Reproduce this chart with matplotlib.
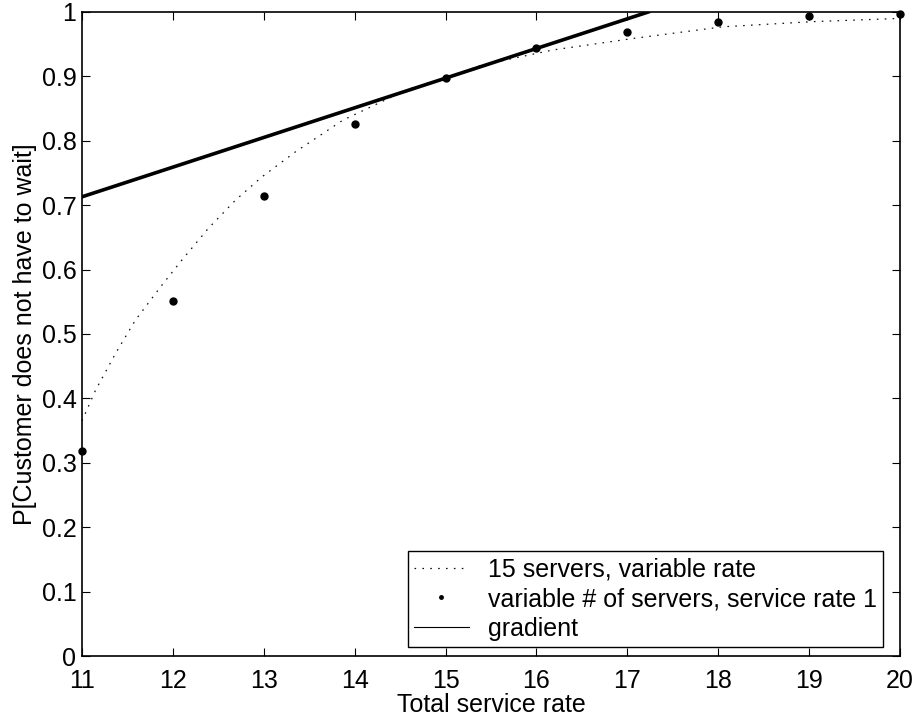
import matplotlib
matplotlib.use("Agg")
import matplotlib.pyplot as plt

plt.rcParams['font.family'] = ['Liberation Sans', 'DejaVu Sans']

# 15 servers, variable rate (curve)
rate_curve = [11.0, 11.15, 11.37, 11.59, 11.88, 12.1, 12.39, 12.69, 12.98,
              13.35, 13.87, 14.57, 15.0, 15.41, 16.18, 17.07, 18.05, 19.04, 20.0]
p_curve = [0.365, 0.413, 0.470, 0.522, 0.576, 0.615, 0.664, 0.708, 0.744,
           0.783, 0.832, 0.879, 0.898, 0.918, 0.941, 0.959, 0.977, 0.985, 0.990]

# variable number of servers, service rate 1
servers = [11, 12, 13, 14, 15, 16, 17, 18, 19, 20]
p_servers = [0.318, 0.551, 0.715, 0.826, 0.898, 0.944, 0.969, 0.985, 0.993, 0.997]

# gradient at 15
grad_x = [11.0, 17.23]
grad_y = [0.713, 1.0]

fig = plt.figure(figsize=(9.17, 7.22), dpi=100)
ax = fig.add_axes([0.0894, 0.0914, 0.8921, 0.892])

ax.plot(rate_curve, p_curve, color='#111111', linewidth=0.9,
        dashes=(1.3, 5.0), label='15 servers, variable rate')
ax.plot(servers, p_servers, 'k.', markersize=10, clip_on=False,
        label='variable # of servers, service rate 1')
ax.plot(grad_x, grad_y, 'k-', linewidth=2.6, label='gradient')

ax.set_xlim(11, 20)
ax.set_ylim(0, 1)
ax.set_xticks(range(11, 21))
ax.set_yticks([i / 10 for i in range(11)])
ax.set_yticklabels(['0', '0.1', '0.2', '0.3', '0.4', '0.5', '0.6', '0.7',
                    '0.8', '0.9', '1'])
ax.tick_params(direction='in', length=6, width=0.8, top=True, right=True,
               labelsize=18)
ax.tick_params(axis='x', pad=9)
ax.tick_params(axis='y', pad=4)
for s in ax.spines.values():
    s.set_linewidth(1.2)

ax.set_xlabel('Total service rate', fontsize=18, labelpad=0)
ax.set_ylabel('P[Customer does not have to wait]', fontsize=18, labelpad=3)

leg = ax.legend(loc='lower right', bbox_to_anchor=(0.979, 0.014),
                fontsize=18, fancybox=False, edgecolor='black', framealpha=1,
                borderpad=0.25, labelspacing=0.22, handlelength=2.2,
                handletextpad=0.75, borderaxespad=0)
leg.get_frame().set_linewidth(1.0)
leg.legend_handles[1].set_markersize(5)
leg.get_lines()[2].set_linewidth(0.8)

fig.savefig('out.png', dpi=100)
